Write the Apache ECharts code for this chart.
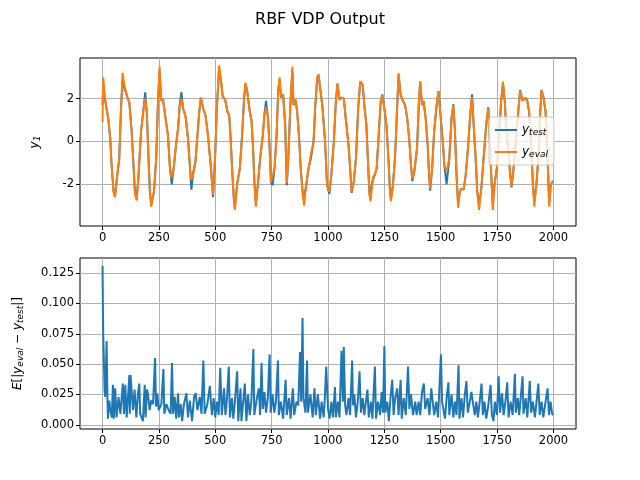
<!DOCTYPE html>
<html>
<head>
<meta charset="utf-8">
<script src="https://cdn.jsdelivr.net/npm/echarts@6/dist/echarts.min.js"></script>
<style>
  html, body { margin: 0; padding: 0; background: #fff; }
  #main { width: 640px; height: 480px; }
</style>
</head>
<body>
<div id="main"></div>
<script>
// top panel: samples (x, y_test, y_eval)
var topX = [0, 3, 8, 15, 25, 34, 40, 49, 55, 64, 74, 82, 89, 97, 109, 119, 129, 138, 144, 152, 159, 171, 182, 189, 196,
  204, 210, 216, 228, 238, 246, 253, 260, 268, 278, 290, 299, 307, 317, 326, 335, 342, 350, 357, 368, 379, 388, 394,
  403, 412, 420, 429, 436, 446, 457, 469, 481, 490, 499, 507, 517, 526, 533, 544, 554, 562, 568, 576, 583, 587, 597,
  609, 619, 628, 634, 641, 653, 661, 667, 674, 680, 689, 699, 711, 718, 725, 734, 741, 747, 754, 763, 772, 779, 785,
  792, 801, 810, 817, 824, 833, 842, 847, 856, 863, 871, 879, 888, 894, 903, 914, 924, 936, 943, 952, 958, 967, 975,
  987, 996, 1006, 1015, 1026, 1035, 1042, 1051, 1061, 1070, 1080, 1091, 1099, 1105, 1114, 1124, 1134, 1143, 1154,
  1161, 1170, 1178, 1184, 1189, 1199, 1208, 1216, 1224, 1234, 1241, 1250, 1259, 1268, 1275, 1279, 1288, 1297, 1306,
  1313, 1322, 1330, 1342, 1351, 1360, 1368, 1374, 1383, 1395, 1404, 1409, 1417, 1424, 1433, 1442, 1447, 1453, 1462,
  1471, 1482, 1490, 1497, 1509, 1516, 1526, 1538, 1548, 1556, 1563, 1570, 1577, 1585, 1592, 1602, 1611, 1621, 1632,
  1639, 1646, 1655, 1662, 1670, 1680, 1690, 1702, 1711, 1716, 1724, 1731, 1738, 1749, 1757, 1768, 1776, 1784, 1789,
  1798, 1807, 1814, 1822, 1833, 1845, 1852, 1863, 1874, 1883, 1892, 1901, 1909, 1915, 1924, 1933, 1940, 1947, 1956,
  1965, 1974, 1981, 1988, 1994, 1999];
var yTest = [1.7, 2.7, 2.2, 1.7, 1.1, 0.15, -1.1, -2.35, -2.55, -1.7, -0.8, 1.55, 2.9, 2.5, 2.1, 1.8, 0.5, -1.25, -2.4,
  -2.5, -1.7, 0.5, 1.55, 2.3, 1.4, -0.8, -2.35, -2.95, -2.35, -0.8, 1.9, 3.3, 1.9, 2.0, 1.2, 0.3, -1.25, -2.0, -1.1,
  -0.15, 0.6, 1.7, 2.3, 1.55, 1.2, 0.15, -1.25, -2.25, -1.4, -0.95, 0.15, 1.4, 2.05, 1.55, 1.2, 0.15, -1.25, -2.6,
  -0.8, 1.55, 3.4, 2.8, 2.1, 1.95, 1.4, 1.2, 0.15, -1.55, -2.8, -3.1, -2.0, -1.25, 0.3, 2.05, 2.7, 2.4, 1.4, 0.95,
  -0.15, -2.0, -2.9, -2.0, -0.8, 0.3, 1.25, 1.9, 1.1, -0.3, -1.9, -2.05, -1.25, 0.3, 2.35, 2.9, 2.05, 2.2, 0.8, -2.05,
  -0.8, 1.7, 3.3, 1.7, 1.95, 1.4, 0.3, -1.25, -2.4, -2.6, -2.05, -1.25, -0.8, 0.0, 1.55, 2.9, 3.1, 2.35, 1.65, 0.0,
  -2.05, -2.45, -1.55, 0.0, 1.9, 2.7, 1.95, 2.05, 2.0, 0.95, -0.15, -1.4, -2.4, -1.9, -0.8, 1.55, 2.8, 2.65, 1.7, 0.8,
  -1.1, -2.5, -2.55, -1.8, -1.55, -1.25, 0.15, 1.9, 2.2, 1.55, 0.8, -0.8, -2.35, -2.7, -2.05, -0.8, 1.4, 3.1, 2.2,
  1.95, 1.7, 1.1, 0.15, -1.1, -1.85, -1.4, -0.3, 2.05, 2.8, 1.7, 1.9, 1.1, -0.15, -1.25, -2.3, -1.25, 0.5, 1.7, 2.35,
  2.35, 0.0, -1.1, -2.0, -0.8, 1.1, 1.75, 0.5, -1.55, -2.9, -2.35, -2.2, -2.25, -1.55, -0.3, 1.4, 2.2, 0.8, -0.8,
  -2.35, -3.0, -2.2, -0.8, 0.8, 1.6, 0.5, -1.55, -3.0, -2.05, -1.25, 0.0, 1.9, 2.7, 1.9, 0.8, -0.15, -1.4, -2.15,
  -1.4, 0.0, 1.55, 2.4, 1.9, 2.05, 1.95, 1.4, -0.15, -2.05, -2.8, -2.05, -0.8, 1.1, 2.4, 2.05, 1.4, -0.8, -2.9, -2.05,
  -1.9, -1.85];
var yEval = [0.9, 3.0, 2.3, 1.7, 1.1, 0.15, -1.1, -2.35, -2.6, -1.7, -0.8, 1.55, 3.2, 2.6, 2.1, 1.8, 0.5, -1.25, -2.5,
  -2.75, -1.7, 0.5, 1.55, 2.0, 1.4, -0.8, -2.35, -3.05, -2.35, -0.8, 1.9, 3.5, 1.9, 2.0, 1.2, 0.3, -1.25, -1.7, -1.1,
  -0.15, 0.6, 1.6, 2.0, 1.55, 1.2, 0.15, -1.25, -1.8, -1.5, -0.95, 0.15, 1.4, 2.05, 1.55, 1.2, 0.15, -1.25, -2.5,
  -0.8, 1.55, 3.55, 2.8, 2.1, 1.95, 1.4, 1.2, 0.15, -1.55, -2.8, -3.2, -2.0, -1.25, 0.3, 2.05, 2.75, 2.4, 1.4, 0.95,
  -0.15, -2.0, -3.05, -2.0, -0.8, 0.3, 1.25, 1.6, 1.1, -0.3, -1.9, -1.95, -1.25, 0.3, 2.35, 3.0, 2.05, 2.2, 0.8, -1.95,
  -0.8, 1.7, 3.5, 1.7, 1.95, 1.4, 0.3, -1.25, -2.5, -3.0, -2.05, -1.25, -0.6, 0.0, 1.55, 3.0, 3.15, 2.35, 1.65, 0.0,
  -2.05, -2.35, -1.55, 0.0, 1.9, 2.7, 1.95, 2.05, 2.0, 0.95, -0.15, -1.4, -2.35, -1.9, -0.8, 1.55, 2.8, 2.65, 1.7, 0.8,
  -1.1, -2.5, -2.8, -1.7, -1.55, -1.25, 0.15, 1.9, 2.15, 1.55, 0.8, -0.8, -2.35, -2.8, -2.05, -0.8, 1.4, 3.2, 2.2,
  1.95, 1.7, 1.1, 0.15, -1.1, -1.75, -1.4, -0.3, 2.05, 2.8, 1.7, 1.9, 1.1, -0.15, -1.25, -2.2, -1.25, 0.5, 1.7, 2.35,
  2.35, 0.0, -1.1, -1.4, -0.8, 1.1, 1.7, 0.5, -1.55, -3.1, -2.35, -2.2, -2.25, -1.55, -0.3, 1.4, 2.05, 0.8, -0.8,
  -2.35, -3.2, -2.2, -0.8, 0.8, 1.55, 0.5, -1.55, -3.2, -2.05, -1.25, 0.0, 1.9, 2.8, 1.9, 0.8, -0.15, -1.4, -2.1,
  -1.4, 0.0, 1.55, 2.35, 1.9, 2.05, 1.95, 1.4, -0.15, -2.05, -3.05, -2.05, -0.8, 1.1, 2.4, 2.05, 1.4, -0.8, -3.05,
  -2.05, -1.9, -1.9];

// bottom panel: E[|y_eval - y_test|]
var errX = [0, 2, 3, 5, 7, 9, 12, 18, 22, 24, 30, 34, 41, 46, 50, 56, 62, 71, 79, 90, 95, 101, 107, 113, 119, 121,
  124, 135, 142, 150, 157, 163, 167, 179, 187, 191, 197, 201, 209, 216, 224, 233, 237, 243, 249, 261, 270, 274, 283,
  293, 302, 308, 313, 320, 327, 335, 339, 347, 353, 361, 372, 379, 387, 397, 406, 413, 421, 431, 439, 447, 453, 465,
  476, 485, 493, 500, 507, 515, 522, 529, 539, 545, 551, 560, 565, 574, 580, 587, 597, 602, 612, 616, 624, 631, 638,
  645, 653, 660, 669, 673, 682, 693, 699, 705, 711, 718, 725, 733, 741, 746, 754, 762, 769, 778, 782, 791, 801, 812,
  817, 827, 834, 844, 850, 860, 868, 876, 881, 887, 891, 900, 907, 911, 922, 932, 940, 946, 955, 965, 972, 981, 986,
  992, 1000, 1007, 1015, 1022, 1031, 1035, 1044, 1051, 1060, 1066, 1070, 1076, 1082, 1091, 1098, 1107, 1111, 1117,
  1124, 1132, 1140, 1146, 1154, 1161, 1168, 1175, 1181, 1190, 1197, 1208, 1213, 1222, 1231, 1238, 1244, 1250, 1254,
  1263, 1270, 1277, 1285, 1291, 1298, 1307, 1313, 1322, 1327, 1336, 1345, 1355, 1361, 1368, 1377, 1387, 1393, 1402,
  1409, 1417, 1425, 1431, 1442, 1450, 1458, 1463, 1471, 1480, 1488, 1501, 1506, 1512, 1519, 1526, 1534, 1538, 1548,
  1556, 1563, 1570, 1579, 1583, 1592, 1599, 1607, 1614, 1620, 1629, 1636, 1643, 1651, 1658, 1665, 1673, 1681, 1687,
  1694, 1702, 1711, 1721, 1727, 1734, 1740, 1749, 1757, 1763, 1772, 1779, 1787, 1795, 1801, 1810, 1819, 1829, 1833,
  1842, 1848, 1863, 1867, 1877, 1884, 1895, 1901, 1909, 1918, 1933, 1939, 1947, 1955, 1965, 1974, 1980, 1987, 1994,
  1999];
var errY = [0.131, 0.09, 0.075, 0.06, 0.045, 0.028, 0.023, 0.069, 0.020, 0.005, 0.020, 0.013, 0.006, 0.033, 0.005,
  0.030, 0.006, 0.023, 0.009, 0.034, 0.009, 0.033, 0.006, 0.023, 0.041, 0.009, 0.041, 0.012, 0.029, 0.006, 0.026,
  0.034, 0.009, 0.003, 0.033, 0.006, 0.029, 0.026, 0.012, 0.020, 0.017, 0.055, 0.015, 0.026, 0.012, 0.017, 0.046,
  0.009, 0.017, 0.012, 0.009, 0.051, 0.009, 0.023, 0.005, 0.026, 0.006, 0.017, 0.003, 0.017, 0.026, 0.006, 0.020,
  0.003, 0.023, 0.026, 0.012, 0.023, 0.009, 0.053, 0.009, 0.017, 0.032, 0.008, 0.022, 0.006, 0.019, 0.008, 0.047,
  0.008, 0.030, 0.008, 0.019, 0.048, 0.006, 0.022, 0.005, 0.019, 0.044, 0.003, 0.030, 0.003, 0.019, 0.034, 0.003,
  0.025, 0.008, 0.019, 0.0625, 0.008, 0.019, 0.030, 0.008, 0.051, 0.013, 0.027, 0.010, 0.022, 0.058, 0.010, 0.025,
  0.010, 0.019, 0.053, 0.008, 0.019, 0.005, 0.037, 0.008, 0.022, 0.005, 0.030, 0.008, 0.019, 0.016, 0.060, 0.019,
  0.088, 0.022, 0.010, 0.053, 0.010, 0.025, 0.006, 0.030, 0.008, 0.025, 0.005, 0.019, 0.006, 0.022, 0.048, 0.013,
  0.005, 0.019, 0.006, 0.031, 0.006, 0.019, 0.006, 0.061, 0.019, 0.064, 0.016, 0.008, 0.022, 0.008, 0.053, 0.016,
  0.025, 0.006, 0.019, 0.044, 0.010, 0.022, 0.008, 0.019, 0.029, 0.006, 0.019, 0.005, 0.048, 0.005, 0.019, 0.008,
  0.027, 0.010, 0.065, 0.010, 0.019, 0.003, 0.022, 0.037, 0.008, 0.022, 0.030, 0.008, 0.037, 0.005, 0.022, 0.008,
  0.048, 0.013, 0.025, 0.008, 0.019, 0.008, 0.019, 0.008, 0.027, 0.034, 0.013, 0.022, 0.008, 0.030, 0.030, 0.008,
  0.019, 0.006, 0.058, 0.019, 0.019, 0.005, 0.022, 0.035, 0.008, 0.025, 0.006, 0.019, 0.008, 0.049, 0.005, 0.022,
  0.006, 0.025, 0.036, 0.010, 0.019, 0.027, 0.027, 0.008, 0.019, 0.006, 0.019, 0.034, 0.008, 0.019, 0.005, 0.016,
  0.033, 0.008, 0.003, 0.019, 0.008, 0.040, 0.010, 0.026, 0.008, 0.019, 0.035, 0.006, 0.019, 0.008, 0.042, 0.010,
  0.022, 0.008, 0.040, 0.009, 0.022, 0.006, 0.036, 0.010, 0.019, 0.006, 0.034, 0.008, 0.019, 0.006, 0.019, 0.030,
  0.008, 0.019, 0.009, 0.008];

var xTicks = [0, 250, 500, 750, 1000, 1250, 1500, 1750, 2000];
var topYTicks = [-2, 0, 2];
var errYTicks = [0, 0.025, 0.05, 0.075, 0.1, 0.125];

var FONT = 'DejaVu Sans';
var BLUE = '#1f77b4', ORANGE = '#ff7f0e', GRIDC = '#b0b0b0';
var mathRich = {
  n: { fontFamily: FONT, fontSize: 12, color: '#000' },
  i: { fontFamily: FONT, fontSize: 12, fontStyle: 'italic', color: '#000' },
  s: { fontFamily: FONT, fontSize: 9, fontStyle: 'italic', color: '#000', verticalAlign: 'bottom', padding: [5, 0, 0, 0] }
};
var tickFont = { color: '#000', fontFamily: FONT, fontSize: 11.5 };

function pairs(xs, ys) {
  return xs.map(function (x, i) { return [x, ys[i]]; });
}

function xAxisFor(gridIndex) {
  return {
    type: 'value', gridIndex: gridIndex, min: -100, max: 2100,
    axisLine: { show: false, onZero: false },
    axisTick: { show: true, customValues: xTicks, length: 4, lineStyle: { color: '#000', width: 1 } },
    axisLabel: Object.assign({ customValues: xTicks, margin: 6, formatter: function (v) { return String(v); } }, tickFont),
    splitLine: { show: true, lineStyle: { color: GRIDC, width: 1 } }
  };
}

var option = {
  animation: false,
  backgroundColor: '#fff',
  title: {
    text: 'RBF VDP Output', left: 'center', top: 7,
    textStyle: { fontFamily: FONT, fontSize: 16, fontWeight: 'normal', color: '#000' }
  },
  grid: [
    { left: 80, top: 58, width: 496, height: 168, show: true, borderColor: '#000', borderWidth: 1, backgroundColor: 'transparent' },
    { left: 80, top: 258, width: 496, height: 171, show: true, borderColor: '#000', borderWidth: 1, backgroundColor: 'transparent' }
  ],
  xAxis: [xAxisFor(0), xAxisFor(1)],
  yAxis: [
    {
      type: 'value', gridIndex: 0, min: -3.95, max: 3.9,
      name: '{i|y}{s|1}', nameLocation: 'middle', nameGap: 38, nameRotate: 90,
      nameTextStyle: { rich: mathRich },
      axisLine: { show: false, onZero: false },
      axisTick: { show: true, customValues: topYTicks, length: 4, lineStyle: { color: '#000', width: 1 } },
      axisLabel: Object.assign({ customValues: topYTicks, margin: 6 }, tickFont),
      splitLine: { show: true, lineStyle: { color: GRIDC, width: 1 } }
    },
    {
      type: 'value', gridIndex: 1, min: -0.0035, max: 0.1375,
      name: '{i|E}{n|[|}{i|y}{s|eval}{n| − }{i|y}{s|test}{n||]}', nameLocation: 'middle', nameGap: 55, nameRotate: 90,
      nameTextStyle: { rich: mathRich },
      axisLine: { show: false, onZero: false },
      axisTick: { show: true, customValues: errYTicks, length: 4, lineStyle: { color: '#000', width: 1 } },
      axisLabel: Object.assign({
        customValues: errYTicks, margin: 6,
        formatter: function (v) { return v.toFixed(3); }
      }, tickFont),
      splitLine: { show: true, lineStyle: { color: GRIDC, width: 1 } }
    }
  ],
  legend: {
    data: ['y_test', 'y_eval'],
    orient: 'vertical', left: 489, top: 117,
    icon: 'rect', itemWidth: 22, itemHeight: 2, itemGap: 9,
    padding: [7, 6, 6, 6],
    backgroundColor: 'rgba(255,255,255,0.8)', borderColor: '#cccccc', borderWidth: 1, borderRadius: 3,
    formatter: function (name) { return name === 'y_test' ? '{i|y}{s|test}' : '{i|y}{s|eval}'; },
    textStyle: { rich: mathRich }
  },
  series: [
    {
      name: 'y_test', type: 'line', xAxisIndex: 0, yAxisIndex: 0, data: pairs(topX, yTest),
      showSymbol: false, lineStyle: { color: BLUE, width: 2 }, itemStyle: { color: BLUE }, z: 2
    },
    {
      name: 'y_eval', type: 'line', xAxisIndex: 0, yAxisIndex: 0, data: pairs(topX, yEval),
      showSymbol: false, lineStyle: { color: ORANGE, width: 2 }, itemStyle: { color: ORANGE }, z: 3
    },
    {
      name: 'err', type: 'line', xAxisIndex: 1, yAxisIndex: 1, data: pairs(errX, errY),
      showSymbol: false, lineStyle: { color: BLUE, width: 2 }, itemStyle: { color: BLUE }, z: 2
    }
  ]
};

echarts.init(document.getElementById('main')).setOption(option);
</script>
</body>
</html>
